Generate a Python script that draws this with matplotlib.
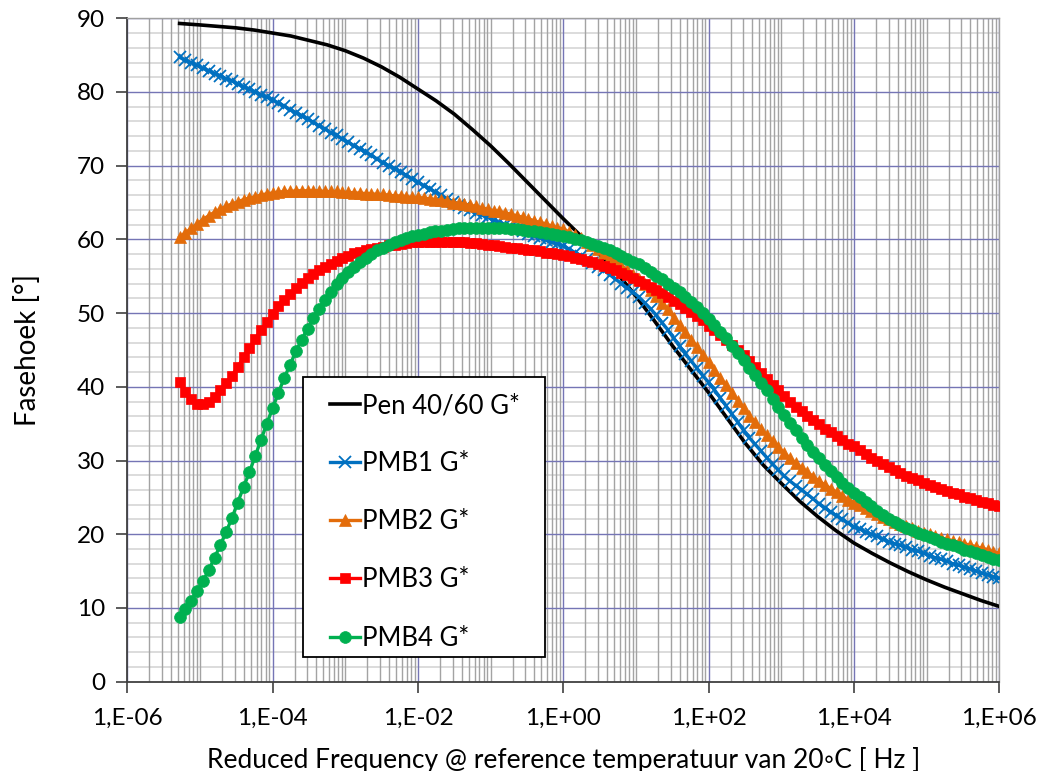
import math
import matplotlib
matplotlib.use("Agg")
import matplotlib.pyplot as plt
from matplotlib.ticker import FixedLocator, FuncFormatter, MultipleLocator, NullFormatter
from matplotlib.patches import Rectangle

plt.rcParams['font.family'] = ['Lato', 'DejaVu Sans']

# ---------------- data ----------------
# log10 of reduced frequency (Hz) of the measured points
log_freq = [
    -5.28, -5.20, -5.12, -5.04, -4.96, -4.88, -4.80, -4.72, -4.64, -4.56,
    -4.48, -4.40, -4.32, -4.24, -4.16, -4.08, -4.00, -3.92, -3.84, -3.76,
    -3.68, -3.60, -3.52, -3.44, -3.36, -3.28, -3.20, -3.12, -3.04, -2.96,
    -2.88, -2.80, -2.72, -2.64, -2.56, -2.48, -2.40, -2.32, -2.24, -2.16,
    -2.08, -2.00, -1.92, -1.84, -1.76, -1.68, -1.60, -1.52, -1.44, -1.36,
    -1.28, -1.20, -1.12, -1.04, -0.96, -0.88, -0.80, -0.72, -0.64, -0.56,
    -0.48, -0.40, -0.32, -0.24, -0.16, -0.08, 0.00, 0.08, 0.16, 0.24,
    0.32, 0.40, 0.48, 0.56, 0.64, 0.72, 0.80, 0.88, 0.96, 1.04,
    1.12, 1.20, 1.28, 1.36, 1.44, 1.52, 1.60, 1.68, 1.76, 1.84,
    1.92, 2.00, 2.08, 2.16, 2.24, 2.32, 2.40, 2.48, 2.56, 2.64,
    2.72, 2.80, 2.88, 2.96, 3.04, 3.12, 3.20, 3.28, 3.36, 3.44,
    3.52, 3.60, 3.68, 3.76, 3.84, 3.92, 4.00, 4.08, 4.16, 4.24,
    4.32, 4.40, 4.48, 4.56, 4.64, 4.72, 4.80, 4.88, 4.96, 5.04,
    5.12, 5.20, 5.28, 5.36, 5.44, 5.52, 5.60, 5.68, 5.76, 5.84,
    5.92, 6.00,
]

pmb1 = [
    84.7, 84.3, 84.0, 83.6, 83.2, 82.9, 82.5, 82.2, 81.8, 81.5,
    81.1, 80.7, 80.4, 80.0, 79.6, 79.3, 78.9, 78.5, 78.1, 77.6,
    77.2, 76.8, 76.3, 75.9, 75.4, 75.0, 74.5, 74.1, 73.6, 73.2,
    72.7, 72.3, 71.8, 71.4, 70.9, 70.4, 70.0, 69.6, 69.1, 68.7,
    68.2, 67.8, 67.3, 66.9, 66.4, 66.0, 65.5, 65.1, 64.7, 64.3,
    64.0, 63.6, 63.3, 63.0, 62.6, 62.3, 62.0, 61.7, 61.4, 61.1,
    60.8, 60.5, 60.2, 59.9, 59.6, 59.4, 59.1, 58.7, 58.2, 57.8,
    57.3, 56.8, 56.3, 55.8, 55.2, 54.6, 54.0, 53.4, 52.8, 52.2,
    51.4, 50.6, 49.7, 48.7, 47.7, 46.6, 45.5, 44.5, 43.5, 42.5,
    41.5, 40.6, 39.6, 38.5, 37.4, 36.3, 35.2, 34.1, 33.1, 32.2,
    31.3, 30.4, 29.5, 28.7, 27.9, 27.2, 26.6, 26.0, 25.4, 24.8,
    24.1, 23.6, 23.0, 22.5, 22.0, 21.5, 21.0, 20.7, 20.3, 20.0,
    19.7, 19.3, 19.0, 18.7, 18.5, 18.2, 17.9, 17.7, 17.4, 17.1,
    16.8, 16.6, 16.3, 16.0, 15.8, 15.5, 15.3, 15.0, 14.7, 14.5,
    14.2, 14.0,
]

pmb2 = [
    60.3, 60.9, 61.5, 62.1, 62.7, 63.2, 63.7, 64.1, 64.5, 64.8,
    65.1, 65.4, 65.6, 65.8, 66.0, 66.2, 66.3, 66.4, 66.5, 66.5,
    66.6, 66.6, 66.6, 66.6, 66.6, 66.5, 66.5, 66.5, 66.4, 66.4,
    66.3, 66.3, 66.2, 66.2, 66.1, 66.1, 66.0, 65.9, 65.9, 65.8,
    65.7, 65.7, 65.6, 65.5, 65.4, 65.3, 65.2, 65.0, 64.9, 64.8,
    64.6, 64.5, 64.3, 64.1, 63.9, 63.8, 63.6, 63.4, 63.2, 63.0,
    62.8, 62.5, 62.3, 62.1, 61.8, 61.6, 61.4, 61.0, 60.6, 60.2,
    59.7, 59.2, 58.7, 58.2, 57.6, 57.0, 56.4, 55.8, 55.2, 54.6,
    53.9, 53.1, 52.3, 51.4, 50.5, 49.4, 48.4, 47.4, 46.4, 45.4,
    44.3, 43.3, 42.3, 41.2, 40.2, 39.2, 38.1, 37.1, 36.1, 35.2,
    34.3, 33.4, 32.6, 31.8, 31.0, 30.3, 29.6, 29.0, 28.4, 27.8,
    27.2, 26.7, 26.2, 25.7, 25.2, 24.7, 24.3, 23.9, 23.5, 23.1,
    22.7, 22.4, 22.0, 21.7, 21.4, 21.1, 20.8, 20.5, 20.2, 20.0,
    19.8, 19.5, 19.3, 19.1, 18.9, 18.7, 18.5, 18.3, 18.1, 17.9,
    17.6, 17.4,
]

pmb3 = [
    40.7, 39.3, 38.3, 37.7, 37.6, 37.9, 38.6, 39.5, 40.5, 41.5,
    42.7, 44.0, 45.3, 46.5, 47.7, 48.8, 49.9, 50.9, 51.8, 52.6,
    53.4, 54.1, 54.7, 55.3, 55.8, 56.3, 56.7, 57.1, 57.5, 57.8,
    58.1, 58.3, 58.5, 58.7, 58.9, 59.0, 59.2, 59.3, 59.4, 59.5,
    59.6, 59.6, 59.7, 59.7, 59.7, 59.7, 59.7, 59.7, 59.6, 59.6,
    59.5, 59.5, 59.4, 59.3, 59.2, 59.1, 59.0, 58.9, 58.8, 58.7,
    58.6, 58.5, 58.4, 58.2, 58.1, 58.0, 57.9, 57.7, 57.5, 57.3,
    57.1, 56.9, 56.7, 56.4, 56.1, 55.8, 55.5, 55.2, 54.8, 54.4,
    54.0, 53.6, 53.1, 52.7, 52.2, 51.7, 51.2, 50.7, 50.1, 49.6,
    49.0, 48.3, 47.7, 47.0, 46.4, 45.7, 45.0, 44.3, 43.5, 42.7,
    41.9, 41.1, 40.3, 39.5, 38.8, 38.0, 37.3, 36.7, 36.1, 35.5,
    34.9, 34.3, 33.8, 33.3, 32.8, 32.3, 31.9, 31.4, 30.9, 30.4,
    30.0, 29.5, 29.1, 28.7, 28.3, 27.9, 27.6, 27.3, 27.0, 26.7,
    26.4, 26.1, 25.9, 25.6, 25.4, 25.1, 24.9, 24.7, 24.4, 24.2,
    24.0, 23.8,
]

pmb4 = [
    8.8, 9.8, 11.0, 12.3, 13.6, 15.1, 16.8, 18.5, 20.3, 22.2,
    24.3, 26.4, 28.4, 30.6, 32.8, 35.0, 37.1, 39.2, 41.2, 43.0,
    44.8, 46.4, 47.9, 49.3, 50.6, 51.8, 52.9, 53.9, 54.8, 55.6,
    56.3, 56.9, 57.5, 58.0, 58.5, 58.9, 59.3, 59.6, 59.9, 60.2,
    60.4, 60.6, 60.8, 61.0, 61.1, 61.2, 61.3, 61.4, 61.5, 61.5,
    61.6, 61.6, 61.6, 61.6, 61.6, 61.5, 61.5, 61.4, 61.4, 61.3,
    61.2, 61.1, 61.0, 60.9, 60.8, 60.6, 60.5, 60.3, 60.1, 59.9,
    59.6, 59.4, 59.1, 58.8, 58.5, 58.2, 57.8, 57.4, 57.0, 56.6,
    56.1, 55.6, 55.1, 54.6, 54.0, 53.4, 52.8, 52.2, 51.5, 50.8,
    50.0, 49.2, 48.4, 47.5, 46.6, 45.6, 44.6, 43.6, 42.6, 41.6,
    40.5, 39.5, 38.4, 37.2, 36.2, 35.1, 34.1, 33.1, 32.1, 31.2,
    30.3, 29.4, 28.6, 27.8, 27.0, 26.3, 25.6, 25.0, 24.4, 23.8,
    23.1, 22.6, 22.1, 21.7, 21.3, 20.9, 20.6, 20.2, 19.9, 19.6,
    19.3, 19.0, 18.7, 18.5, 18.2, 17.9, 17.7, 17.4, 17.2, 16.9,
    16.7, 16.5,
]

# Pen 40/60 (plain line, coarser sampling)
pen_log_freq = [
    -5.28, -5.00, -4.75, -4.50, -4.25, -4.00, -3.75, -3.50, -3.25, -3.00,
    -2.75, -2.50, -2.25, -2.00, -1.75, -1.50, -1.25, -1.00, -0.75, -0.50,
    -0.25, 0.00, 0.25, 0.50, 0.75, 1.00, 1.25, 1.50, 1.75, 2.00,
    2.25, 2.50, 2.75, 3.00, 3.25, 3.50, 3.75, 4.00, 4.25, 4.50,
    4.75, 5.00, 5.25, 5.50, 5.75, 6.00,
]
pen = [
    89.3, 89.1, 88.9, 88.7, 88.4, 88.0, 87.6, 87.0, 86.4, 85.6,
    84.6, 83.4, 82.0, 80.4, 78.8, 77.0, 74.9, 72.7, 70.3, 67.8,
    65.3, 62.8, 60.4, 58.0, 55.3, 52.3, 49.0, 45.6, 42.4, 39.2,
    35.8, 32.4, 29.4, 26.9, 24.5, 22.4, 20.5, 18.8, 17.4, 16.1,
    14.9, 13.8, 12.8, 11.9, 11.0, 10.2,
]

series_names = ["Pen 40/60 G*", "PMB1 G*", "PMB2 G*", "PMB3 G*", "PMB4 G*"]
x_tick_exponents = [-6, -4, -2, 0, 2, 4, 6]
y_ticks = [0, 10, 20, 30, 40, 50, 60, 70, 80, 90]
x_label = "Reduced Frequency @ reference temperatuur van 20\u25e6C [ Hz ]"
y_label = "Fasehoek [\u00b0]"

# ---------------- figure ----------------
W, H = 1043, 771
fig = plt.figure(figsize=(W / 100, H / 100), dpi=100)
ax_l, ax_r, ax_t, ax_b = 127.3, 999.3, 18.3, 681.6
ax = fig.add_axes([ax_l / W, 1 - ax_b / H, (ax_r - ax_l) / W, (ax_b - ax_t) / H])

freq = [10 ** e for e in log_freq]
pen_freq = [10 ** e for e in pen_log_freq]

ax.set_xscale('log')
ax.set_xlim(1e-6, 1e6)
ax.set_ylim(0, 90)

major_col = '#7575B5'
minor_v_col = '#A3A3A3'
minor_h_col = '#D6D6D6'

# gridlines
ax.xaxis.set_major_locator(FixedLocator([10.0 ** e for e in x_tick_exponents]))
minor_x = []
for d in range(-6, 6):
    for m in range(1, 10):
        if m == 1 and d % 2 == 0:
            continue
        minor_x.append(m * 10.0 ** d)
ax.xaxis.set_minor_locator(FixedLocator(minor_x))
ax.xaxis.set_minor_formatter(NullFormatter())
ax.xaxis.set_major_formatter(FuncFormatter(lambda v, p: "1,E%+03d" % round(math.log10(v))))
ax.yaxis.set_major_locator(FixedLocator(y_ticks))
ax.yaxis.set_minor_locator(MultipleLocator(2))

for v in minor_x:
    ax.axvline(v, color=minor_v_col, lw=1.0, zorder=0.5)
for yv in range(2, 90, 2):
    if yv % 10:
        ax.axhline(yv, color=minor_h_col, lw=1.2, zorder=0.4)
for e in x_tick_exponents:
    ax.axvline(10.0 ** e, color=major_col, lw=1.0, zorder=0.6)
for yv in y_ticks[1:]:
    ax.axhline(yv, color=major_col, lw=1.0, zorder=0.6)

ax.tick_params(axis='both', which='major', direction='out', length=8, width=1.2,
               color='#404040', labelsize=17.5, labelcolor='black')
ax.tick_params(axis='x', which='major', pad=11)
ax.tick_params(axis='y', which='major', pad=8)
ax.tick_params(axis='both', which='minor', length=0)

for s in ['left', 'bottom']:
    ax.spines[s].set_color('#404040')
    ax.spines[s].set_linewidth(1.3)
for s in ['top', 'right']:
    ax.spines[s].set_color('#A0A0A0')
    ax.spines[s].set_linewidth(1.0)

ax.set_xlabel(x_label, fontsize=19, labelpad=13)
ax.set_ylabel(y_label, fontsize=20, labelpad=26)

# series
ax.plot(pen_freq, pen, color='black', lw=2.6, label=series_names[0], zorder=3)
ax.plot(freq, pmb1, color='#0070C0', lw=2.4, marker='x', ms=8, mew=1.3,
        label=series_names[1], zorder=3)
ax.plot(freq, pmb2, color='#E36C0A', lw=2.4, marker='^', ms=9, mew=0.5,
        label=series_names[2], zorder=3)
ax.plot(freq, pmb3, color='#FF0000', lw=2.4, marker='s', ms=7, mew=0.5,
        label=series_names[3], zorder=3)
ax.plot(freq, pmb4, color='#00B050', lw=2.4, marker='o', ms=8.5, mew=0.5,
        label=series_names[4], zorder=3)

# legend box
lx0, lx1, ly0, ly1 = 303, 545, 377, 657
box = Rectangle(((lx0 - ax_l) / (ax_r - ax_l), (ax_b - ly1) / (ax_b - ax_t)),
                (lx1 - lx0) / (ax_r - ax_l), (ly1 - ly0) / (ax_b - ax_t),
                transform=ax.transAxes, facecolor='white', edgecolor='black',
                lw=1.3, zorder=4)
ax.add_patch(box)
leg = ax.legend(loc='upper left',
                bbox_to_anchor=((330 - ax_l) / (ax_r - ax_l), (ax_b - 393) / (ax_b - ax_t)),
                frameon=False, fontsize=18.5, borderpad=0, borderaxespad=0,
                handlelength=1.15, handletextpad=0.1, labelspacing=1.29,
                numpoints=1)
leg.set_zorder(5)

fig.savefig('out.png', dpi=100)
